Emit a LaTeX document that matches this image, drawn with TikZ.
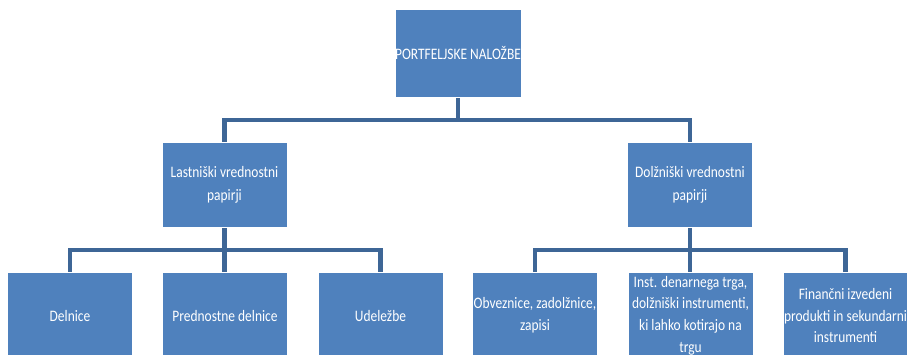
\documentclass[tikz,border=0pt]{standalone}
\usepackage{fontspec}
\setmainfont{Carlito}[FakeStretch=0.84]
\usetikzlibrary{backgrounds}
\definecolor{boxblue}{RGB}{79,129,189}
\definecolor{connblue}{RGB}{62,102,150}
\begin{document}
\begin{tikzpicture}[x=1pt,y=-1pt,
  box/.style={draw=white, line width=0.8pt, fill=boxblue, text=white,
    minimum width=125pt, minimum height=85.5pt, inner sep=0pt, align=center,
    font=\fontsize{16}{21.7}\selectfont},
  midbox/.style={box, font=\fontsize{16}{22.7}\selectfont},
  topbox/.style={box, minimum width=126pt, minimum height=88pt},
  conn/.style={draw=connblue, line width=4.5pt, line join=miter}]
\useasboundingbox (0,0) rectangle (907,354);
\clip (0,0) rectangle (907,354);

\node[topbox] (root) at (458,53) {PORTFELJSKE NALOŽBE};
\node[midbox] (lastn) at (224.5,185) {Lastniški vrednostni\\papirji};
\node[midbox] (dolzn) at (690,185) {Dolžniški vrednostni\\papirji};

\node[box] (b1) at (70,315.5) {Delnice};
\node[box] (b2) at (225,315.5) {Prednostne delnice};
\node[box] (b3) at (380.5,315.5) {Udeležbe};
\node[box] (b4) at (535,315.5) {Obveznice, zadolžnice,\\zapisi};
\node[box] (b5) at (690.5,315.5) {Inst. denarnega trga,\\dolžniški instrumenti,\\ki lahko kotirajo na\\trgu};
\node[box] (b6) at (845.5,315.5) {Finančni izvedeni\\produkti in sekundarni\\instrumenti};

\coordinate (busT) at (0,120);
\coordinate (busL) at (0,250);
\coordinate (busR) at (0,250);

\begin{scope}[on background layer]
  \fill[white] (0,0) rectangle (907,354);
  \draw[conn] (root.south) -- (root.south |- busT);
  \draw[conn] (lastn.north) |- (root.south |- busT) -| (dolzn.north);
  \draw[conn] (lastn.south) -- (lastn.south |- b2.north);
  \draw[conn] (b1.north) |- (lastn.south |- busL) -| (b3.north);
  \draw[conn] (dolzn.south) -- (dolzn.south |- b5.north);
  \draw[conn] (b4.north) |- (dolzn.south |- busR) -| (b6.north);
\end{scope}
\end{tikzpicture}
\end{document}
